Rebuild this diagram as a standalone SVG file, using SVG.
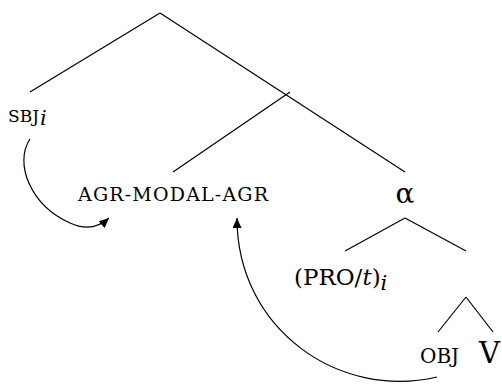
<svg xmlns="http://www.w3.org/2000/svg" width="502" height="384" viewBox="0 0 502 384">
<style>
text{font-family:"DejaVu Serif","Liberation Serif",serif;fill:#000}
.it{font-style:italic}
line,path.c{stroke:#000;stroke-width:1.2;fill:none}
</style>
<defs>
<marker id="ah" markerUnits="userSpaceOnUse" markerWidth="12" markerHeight="10" refX="10" refY="4.5" orient="auto">
<path d="M0,0 L10,4.5 L0,9 Z" fill="#000"/>
</marker>
</defs>
<g id="edges">
<line x1="160" y1="13" x2="30" y2="92"/>
<line x1="160" y1="13" x2="405" y2="172"/>
<line x1="290" y1="92" x2="173" y2="172"/>
<line x1="405" y1="218" x2="345" y2="251"/>
<line x1="405" y1="218" x2="466" y2="251"/>
<line x1="466" y1="297" x2="438" y2="332"/>
<line x1="466" y1="297" x2="493" y2="332"/>
</g>
<g id="arrows">
<path class="c" d="M30,139 C14,163 30,205 70,223 C85,230 98,228 109,218" marker-end="url(#ah)"/>
<path class="c" d="M437,377 C340,400 237,330 237,218" marker-end="url(#ah)"/>
</g>
<g id="n-sbj"><text x="8" y="122" font-size="17">SBJ<tspan class="it" dy="3" dx="1" font-size="21">i</tspan></text></g>
<g id="n-agr"><text x="78" y="201" font-size="19" textLength="190" lengthAdjust="spacing">AGR-MODAL-AGR</text></g>
<g id="n-alpha"><text x="405" y="203" font-size="28" text-anchor="middle">α</text></g>
<g id="n-pro"><text x="294" y="285" font-size="23">(PRO/<tspan class="it">t</tspan>)<tspan class="it" dy="5" font-size="21">i</tspan></text></g>
<g id="n-obj"><text x="420" y="363" font-size="20">OBJ</text></g>
<g id="n-v"><text x="479" y="363" font-size="29">V</text></g>
</svg>
